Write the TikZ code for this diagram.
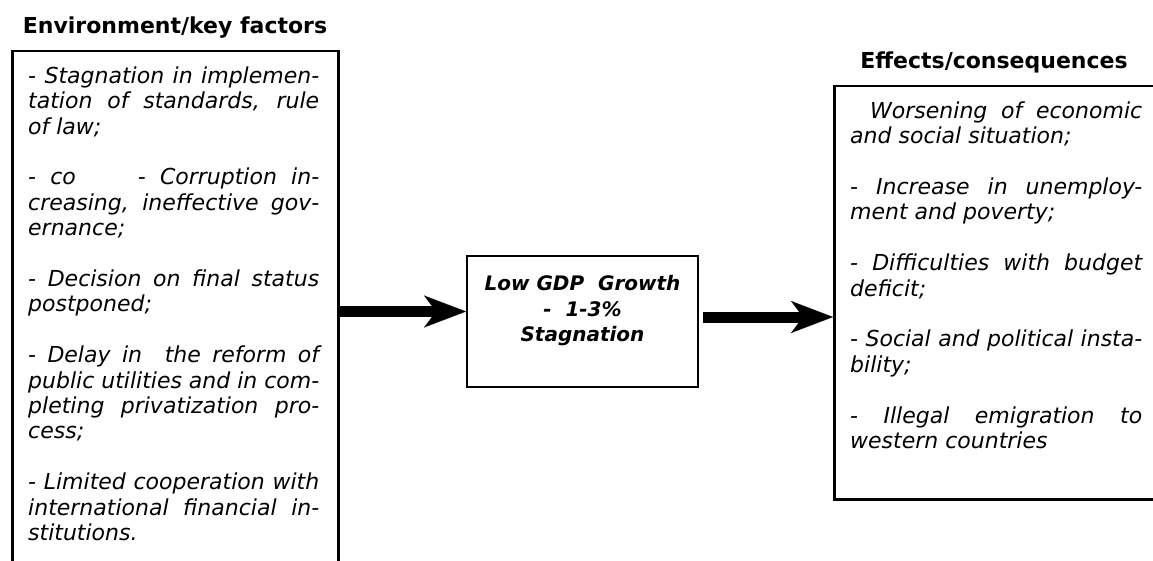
\documentclass[tikz,border=0pt]{standalone}
\usepackage{fontspec}
\setmainfont{DejaVu Sans}
\usetikzlibrary{arrows.meta}
\newcommand\jline[2][291pt]{\hbox to #1{#2}}
\newcommand\eline[1]{\hbox{#1}}
\newcommand\pgap{\vskip 25.4pt}
\begin{document}
\begin{tikzpicture}[x=1pt,y=-1pt,
  box/.style={draw, line width=2.5pt, inner sep=0pt},
  midbox/.style={draw, line width=2pt, inner sep=0pt, minimum width=231pt, minimum height=131pt},
  title/.style={font=\bfseries\fontsize{22}{26}\selectfont, inner sep=0pt, anchor=base},
  body/.style={font=\itshape\fontsize{22}{25.4}\selectfont, inner sep=0pt, anchor=base west},
  midtext/.style={font=\bfseries\itshape\fontsize{20}{25.5}\selectfont, inner sep=0pt, anchor=base},
  bigarrow/.style={line width=11pt, -{Stealth[length=42pt,width=32pt,inset=12pt,line width=0.1pt]}}]
\useasboundingbox (0,0) rectangle (1153,561);
\clip (0,0) rectangle (1153,561);

% titles
\node[title] (envtitle) at (175,33.3) {Environment/key factors};
\node[title] (efftitle) at (994,68.5) {Effects/consequences};

% boxes
\node[box, minimum width=326pt, minimum height=600pt, anchor=north west] (env) at (11,50) {};
\node[midbox] (gdp) at (582.5,321.5) {};
\node[box, minimum width=400pt, minimum height=413pt, anchor=north west] (eff) at (833,85) {};

% left text
\node[body] (envtext) at (28,83.3) {\parbox[t]{291pt}{%
\jline{- Stagnation in implemen-}
\jline{tation of standards, rule}
\eline{of law;}
\pgap
\jline{- co\hskip 62pt - Corruption in-}
\jline{creasing, ineffective gov-}
\eline{ernance;}
\pgap
\jline{- Decision on final status}
\eline{postponed;}
\pgap
\jline{- Delay in\ \ the reform of}
\jline{public utilities and in com-}
\jline{pleting privatization pro-}
\eline{cess;}
\pgap
\jline{- Limited cooperation with}
\jline{international financial in-}
\eline{stitutions.}}};

% middle text
\node[midtext] (gdptext) at (582.5,290.7) {\parbox[t]{231pt}{\centering
Low GDP\ \ Growth\\
-\ \ 1-3\%\\
Stagnation}};

% right text
\node[body] (efftext) at (850,118.3) {\parbox[t]{292pt}{%
\jline[292pt]{\hskip 20pt Worsening of economic}
\eline{and social situation;}
\pgap
\jline[292pt]{- Increase in unemploy-}
\eline{ment and poverty;}
\pgap
\jline[292pt]{- Difficulties with budget}
\eline{deficit;}
\pgap
\jline[292pt]{- Social and political insta-}
\eline{bility;}
\pgap
\jline[292pt]{- Illegal emigration to}
\eline{western countries}}};

% arrows
\coordinate (a1) at (0,311.5);
\coordinate (a2) at (0,317);
\draw[bigarrow] (env.east |- a1) -- (gdp.west |- a1);
\draw[bigarrow] ([xshift=4pt]gdp.east |- a2) -- (eff.west |- a2);
\end{tikzpicture}
\end{document}
